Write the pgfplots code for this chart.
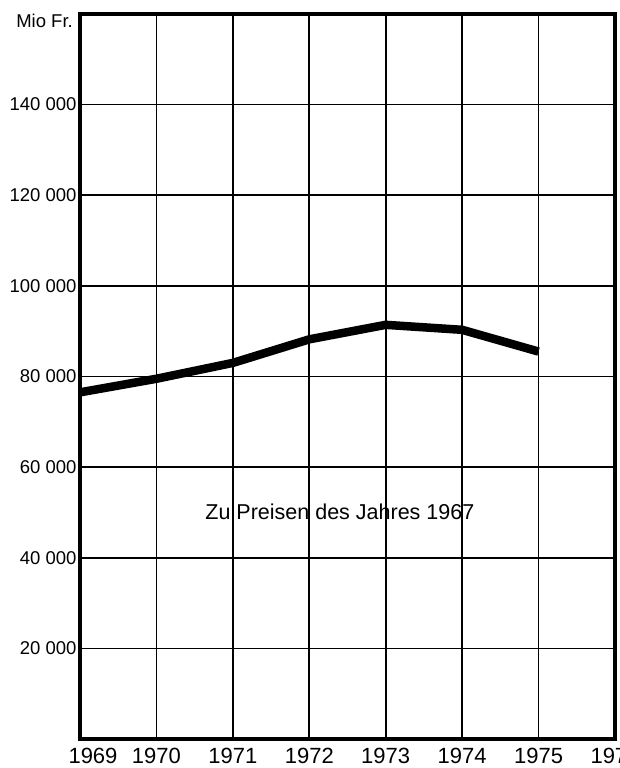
\documentclass[border=0pt]{standalone}
\usepackage{pgfplots}
\pgfplotsset{compat=1.18}
\usepackage{fontspec}
\setmainfont{Liberation Sans}
\begin{document}
\begin{tikzpicture}
\begin{axis}[
  scale only axis,
  width=535pt, height=725pt,
  xmin=1969, xmax=1976, ymin=0, ymax=160000,
  xtick={1969,1970,1971,1972,1973,1974,1975,1976},
  xticklabels={\hspace*{26pt}1969,1970,1971,1972,1973,1974,1975,1976},
  ytick={20000,40000,60000,80000,100000,120000,140000},
  yticklabels={20 000,40 000,60 000,80 000,100 000,120 000,140 000},
  grid=major,
  grid style={black, line width=1.6pt},
  axis line style={black, line width=3.6pt},
  major tick length=0pt,
  xticklabel style={font=\fontsize{22}{24}\selectfont, yshift=-6pt},
  yticklabel style={font=\fontsize{18.5}{20}\selectfont},
  clip=false,
]
\addplot[black, line width=8.5pt, line join=round] coordinates {
  (1969,76500) (1970,79500) (1971,83000) (1972,88200)
  (1973,91400) (1974,90300) (1975,85500)
};
\node[font=\fontsize{21.5}{24}\selectfont] at (axis cs:1972.4,50200) {Zu Preisen des Jahres 1967};
\node[font=\fontsize{18.5}{20}\selectfont, anchor=north east, inner sep=0pt] at (rel axis cs:0,1) [xshift=-7pt, yshift=0pt] {Mio Fr.};
\end{axis}
\pgfresetboundingbox
\useasboundingbox (-80pt,-29pt) rectangle (539pt,739pt);
\end{tikzpicture}
\end{document}
